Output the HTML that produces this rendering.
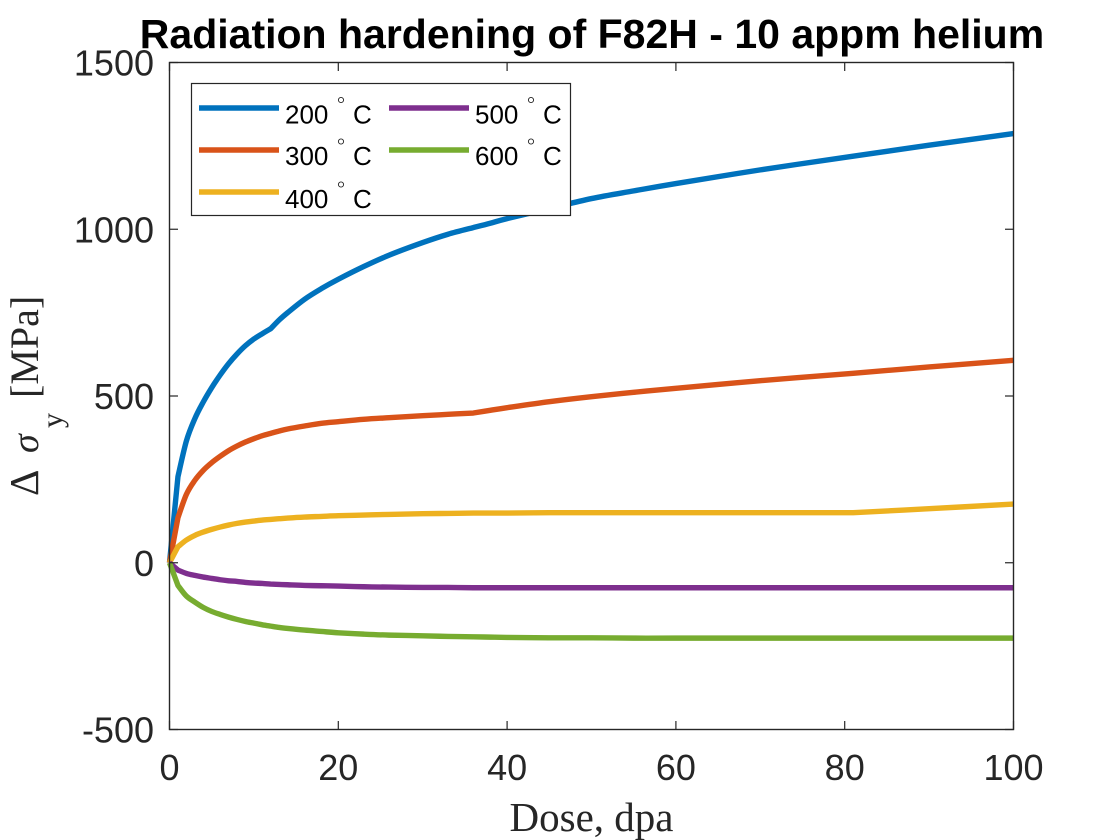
<!DOCTYPE html>
<html>
<head>
<meta charset="utf-8">
<title>Radiation hardening of F82H - 10 appm helium</title>
<style>
html,body{margin:0;padding:0;background:#fff;}
svg{display:block;}
text{font-family:"Liberation Sans",sans-serif;fill:#262626;}
.serif{font-family:"Liberation Serif",serif;}
</style>
</head>
<body>
<svg id="chart" width="1120" height="840" viewBox="0 0 1120 840" xmlns="http://www.w3.org/2000/svg">
<rect width="1120" height="840" fill="#fff"/>
<g id="marks"></g>
<rect x="169.5" y="62.5" width="844" height="667" fill="none" stroke="#262626" stroke-width="1.4"/>
<g id="ticks"></g>
<text x="592" y="48" text-anchor="middle" font-size="41" font-weight="bold" style="fill:#000">Radiation hardening of F82H - 10 appm helium</text>
<text class="serif" x="591.5" y="831" text-anchor="middle" font-size="41">Dose, dpa</text>
<g class="serif">
<text class="serif" transform="translate(38,496) rotate(-90)" font-size="41">Δ</text>
<text class="serif" transform="translate(38,453) rotate(-90)" font-size="38" font-style="italic">σ</text>
<text class="serif" transform="translate(62,428) rotate(-90)" font-size="30">y</text>
<text class="serif" transform="translate(38,398) rotate(-90)" font-size="40">[MPa]</text>
</g>
<g id="legend">
<rect x="191.5" y="83.5" width="379" height="132" fill="#fff" stroke="#262626" stroke-width="1.2"/>
</g>
</svg>
<script>
const doses = [0,1,2,3,4,5,6,7,8,9,10,11,12,13,14,16,18,20,23,26,30,33,36,38,40,45,50,55,60,70,81,90,100];
const series200 = [0,258,365,432,482,525,563,597,626,651,671,687,702,728,750,790,822,850,888,922,960,985,1005,1018,1032,1062,1092,1115,1137,1178,1219,1252,1287];
const series300 = [0,135,205,247,277,300,319,336,350,362,372,381,388,395,401,410,418,423,430,435,441,445,449,457,465,483,498,511,523,546,568,587,607];
const series400 = [0,48,68,82,92,100,107,113,118,122,125,128,130,132,134,137,139,141,143,145,147,148,149,149,149,150,150,150,150,150,150,162,176];
const series500 = [0,-22,-32,-38,-43,-47,-51,-54,-56,-59,-61,-62,-64,-65,-66,-68,-69,-70,-72,-73,-74,-74,-75,-75,-75,-75,-75,-75,-75,-75,-75,-75,-75];
const series600 = [0,-68,-100,-118,-134,-146,-155,-163,-170,-176,-181,-186,-190,-194,-197,-202,-206,-210,-214,-217,-219,-221,-222,-223,-224,-225,-225,-226,-226,-226,-226,-226,-226];
const seriesNames = ['200','300','400','500','600'];
const seriesColors = ['#0072bd','#d95319','#edb120','#7e2f8e','#77ac30'];
const xTicks = [0,20,40,60,80,100];
const yTicks = [-500,0,500,1000,1500];
const kinkDoses = [1,12,36,81];

const NS = 'http://www.w3.org/2000/svg';
const xScale = v => 169.5 + (v - 0) / 100 * 844;
const yScale = v => 729.5 - (v + 500) / 2000 * 667;
const mk = (tag, attrs, parent) => {
  const el = document.createElementNS(NS, tag);
  for (const k in attrs) el.setAttribute(k, attrs[k]);
  parent.appendChild(el);
  return el;
};

function smoothPath(vals) {
  const pts = vals.map((v, j) => [xScale(doses[j]), yScale(v)]);
  let d = 'M' + pts[0][0].toFixed(2) + ' ' + pts[0][1].toFixed(2);
  const isBreak = j => j === 0 || j === pts.length - 1 || kinkDoses.includes(doses[j]);
  for (let j = 0; j < pts.length - 1; j++) {
    const p1 = pts[j], p2 = pts[j + 1];
    const p0 = isBreak(j) ? p1 : pts[j - 1];
    const p3 = isBreak(j + 1) ? p2 : pts[j + 2];
    const c1x = p1[0] + (p2[0] - p0[0]) / 6, c1y = p1[1] + (p2[1] - p0[1]) / 6;
    const c2x = p2[0] - (p3[0] - p1[0]) / 6, c2y = p2[1] - (p3[1] - p1[1]) / 6;
    d += 'C' + c1x.toFixed(2) + ' ' + c1y.toFixed(2) + ' ' + c2x.toFixed(2) + ' ' + c2y.toFixed(2) + ' ' + p2[0].toFixed(2) + ' ' + p2[1].toFixed(2);
  }
  return d;
}

const allSeries = [series200, series300, series400, series500, series600];
const marks = document.getElementById('marks');
allSeries.forEach((vals, i) => {
  const line = mk('path', {
    d: smoothPath(vals),
    fill: 'none', stroke: seriesColors[i], 'stroke-width': 5.4, 'stroke-linejoin': 'round'
  }, marks);
  
  
});

const ticks = document.getElementById('ticks');
const tickStyle = {stroke: '#262626', 'stroke-width': 1.2};
xTicks.forEach(t => {
  const x = xScale(t);
  const a = mk('line', Object.assign({x1: x, x2: x, y1: 729.5, y2: 721}, tickStyle), ticks);
  
  
  const b = mk('line', Object.assign({x1: x, x2: x, y1: 62.5, y2: 71}, tickStyle), ticks);
  
  
  const l = mk('text', {x: x, y: 780, 'text-anchor': 'middle', 'font-size': 36}, ticks);
  
  
  l.textContent = t;
});
yTicks.forEach(t => {
  const y = yScale(t);
  const a = mk('line', Object.assign({x1: 169.5, x2: 178, y1: y, y2: y}, tickStyle), ticks);
  
  
  const b = mk('line', Object.assign({x1: 1013.5, x2: 1005, y1: y, y2: y}, tickStyle), ticks);
  
  
  const l = mk('text', {x: 154, y: y + 13, 'text-anchor': 'end', 'font-size': 36}, ticks);
  
  
  l.textContent = t;
});

const legend = document.getElementById('legend');
seriesNames.forEach((name, i) => {
  const col = i < 3 ? 0 : 1;
  const row = i < 3 ? i : i - 3;
  const x0 = col === 0 ? 199 : 389;
  const ly = [108, 150, 192][row];
  const ty = [123.5, 165, 208][row];
  const g = mk('g', {}, legend);
  
  
  mk('line', {x1: x0, x2: x0 + 80, y1: ly, y2: ly, stroke: seriesColors[i], 'stroke-width': 5.4}, g);
  const t = mk('text', {x: x0 + 86, y: ty, 'font-size': 26}, g);
  t.setAttribute('style', 'fill:#000');
  t.textContent = name;
  mk('circle', {cx: x0 + 142, cy: ty - 23.5, r: 2.6, fill: 'none', stroke: '#222', 'stroke-width': 0.9}, g);
  const c = mk('text', {x: x0 + 154, y: ty, 'font-size': 26}, g);
  c.setAttribute('style', 'fill:#000');
  c.textContent = 'C';
});
</script>
</body>
</html>
